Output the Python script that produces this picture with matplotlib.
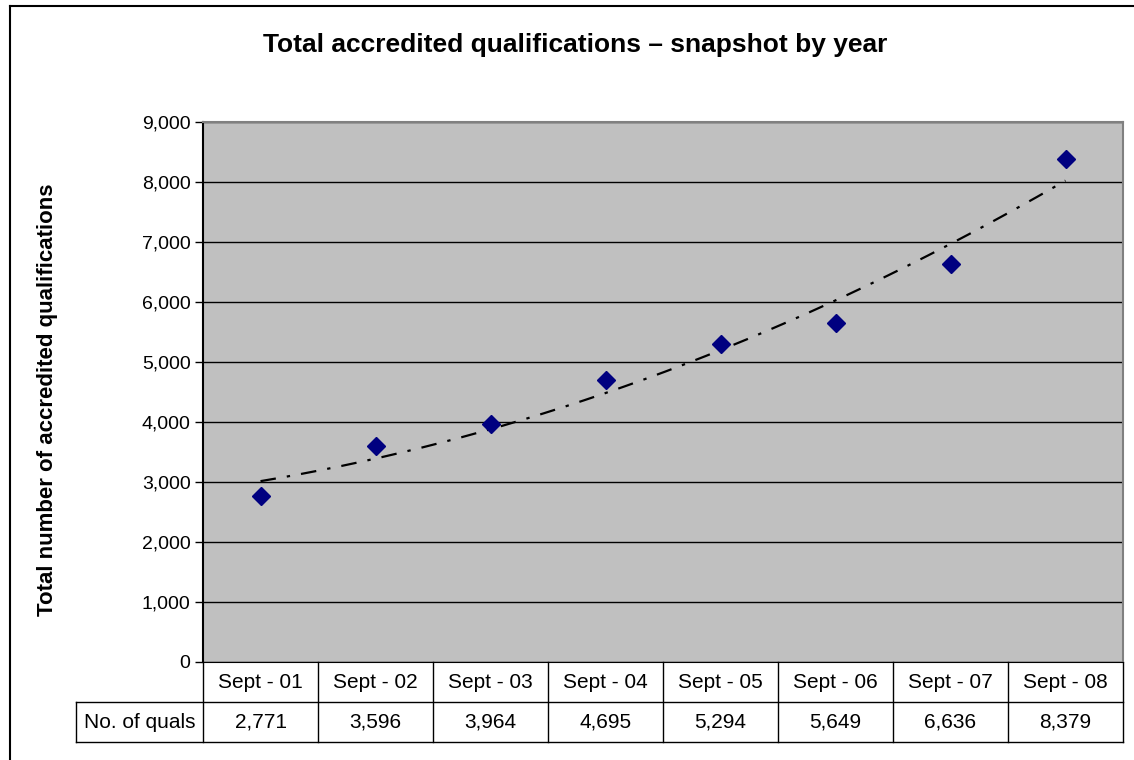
import matplotlib
matplotlib.use("Agg")
import matplotlib.pyplot as plt
import numpy as np
from matplotlib.lines import Line2D

# data
categories = ["Sept - 01", "Sept - 02", "Sept - 03", "Sept - 04",
              "Sept - 05", "Sept - 06", "Sept - 07", "Sept - 08"]
no_of_quals = [2771, 3596, 3964, 4695, 5294, 5649, 6636, 8379]
row_label = "No. of quals"
y_ticks = [0, 1000, 2000, 3000, 4000, 5000, 6000, 7000, 8000, 9000]

plt.rcParams["font.family"] = ["Liberation Sans", "DejaVu Sans"]

W, H = 1134, 760
fig = plt.figure(figsize=(W / 100, H / 100), dpi=100)
fig.patch.set_facecolor("white")

# plot area in pixel coords
left, right, top, bottom = 203, 1123, 122, 662
ax = fig.add_axes([left / W, 1 - bottom / H, (right - left) / W, (bottom - top) / H])
ax.set_facecolor("#C0C0C0")

x = np.arange(len(categories))
ax.set_xlim(-0.5, len(categories) - 0.5)
ax.set_ylim(0, 9000)
ax.set_yticks(y_ticks)
ax.set_yticklabels([f"{v:,}" for v in y_ticks], fontsize=14)
ax.set_xticks([])
ax.tick_params(axis="y", length=6, width=1, pad=3, direction="out")
ax.yaxis.grid(True, color="black", linewidth=1)
ax.set_axisbelow(True)

for s in ["top", "right"]:
    ax.spines[s].set_color("#808080")
    ax.spines[s].set_linewidth(1.5)
ax.spines["left"].set_color("black")
ax.spines["left"].set_linewidth(1.5)
ax.spines["bottom"].set_color("black")

# polynomial trendline like excel
coef = np.polyfit(x + 1, no_of_quals, 2)
xs = np.linspace(0, len(categories) - 1, 200)
ax.plot(xs, np.polyval(coef, xs + 1), color="black", linewidth=1.6,
        linestyle=(0, (7, 5, 1.5, 5)), zorder=3)

ax.plot(x, no_of_quals, linestyle="none", marker="D", markersize=9.5,
        color="#000080", zorder=4)

# data table under the plot
ah = bottom - top
aw = right - left
rh = 40 / ah
lab_left = (76 - left) / aw
n = len(categories)
lkw = dict(color="black", linewidth=1, transform=ax.transAxes, clip_on=False)
for i in range(n + 1):
    ax.add_line(Line2D([i / n, i / n], [0, -2 * rh], **lkw))
ax.add_line(Line2D([lab_left, 1], [-rh, -rh], **lkw))
ax.add_line(Line2D([lab_left, 1], [-2 * rh, -2 * rh], **lkw))
ax.add_line(Line2D([lab_left, lab_left], [-rh, -2 * rh], **lkw))
for i, (c, v) in enumerate(zip(categories, no_of_quals)):
    xc = (i + 0.5) / n
    ax.text(xc, -0.5 * rh, c, transform=ax.transAxes, ha="center",
            va="center", fontsize=15)
    ax.text(xc, -1.5 * rh, f"{v:,}", transform=ax.transAxes, ha="center",
            va="center", fontsize=15)
ax.text(lab_left / 2, -1.5 * rh, row_label, transform=ax.transAxes,
        ha="center", va="center", fontsize=15)

fig.text(575 / W, 1 - 45 / H, "Total accredited qualifications \u2013 snapshot by year",
         ha="center", va="center", fontsize=19, fontweight="bold")
fig.text(48 / W, 1 - 400 / H, "Total number of accredited qualifications",
         ha="center", va="center", rotation=90, fontsize=16, fontweight="bold")

# outer chart border
fig.add_artist(Line2D([10 / W, 1], [1 - 6 / H, 1 - 6 / H], color="black",
                      linewidth=1.5, transform=fig.transFigure))
fig.add_artist(Line2D([10 / W, 10 / W], [0, 1 - 6 / H], color="black",
                      linewidth=1.5, transform=fig.transFigure))

fig.savefig("out.png", dpi=100)
